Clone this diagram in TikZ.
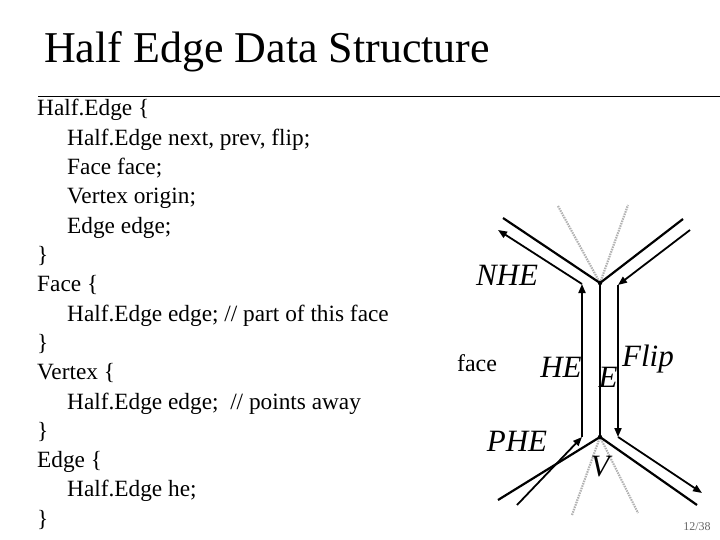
\documentclass[tikz,border=0pt]{standalone}
\usepackage{fontspec}
\setmainfont{Liberation Serif}
\usetikzlibrary{arrows.meta}
\begin{document}
\begin{tikzpicture}[x=1pt,y=-1pt,
  code/.style={anchor=base west,font=\fontsize{23.3}{26}\selectfont,inner sep=0pt},
  edgeln/.style={line width=2.2pt},
  heln/.style={line width=1.8pt,-{Triangle[length=9pt,width=7pt]}},
  dots/.style={gray!60,line width=2.2pt,dash pattern=on 1.5pt off 1pt},
  lab/.style={font=\fontsize{31}{34}\selectfont\itshape,inner sep=0pt}]
\useasboundingbox (0,0) rectangle (720,540);
\node[anchor=west,font=\fontsize{44}{50}\selectfont,inner sep=0pt] (title) at (44,52) {Half Edge Data Structure};
\draw[line width=0.8pt] (38,96) coordinate (r1) -- (720,96) coordinate (r2);
\foreach \t/\x [count=\i from 0] in {{Half.Edge \{}/37,{Half.Edge next, prev, flip;}/67,{Face face;}/67,{Vertex origin;}/67,{Edge edge;}/67,{\}}/37,{Face \{}/37,{Half.Edge edge; // part of this face}/67,{\}}/37,{Vertex \{}/37,{Half.Edge edge;~ // points away}/67,{\}}/37,{Edge \{}/37,{Half.Edge he;}/67,{\}}/37}
  \node[code] (c\i) at (\x,{116+29.3*\i}) {\t};
% vertices
\coordinate (vt) at (600,283);
\coordinate (vb) at (600,437);
\coordinate (tl) at (503,218);
\coordinate (tr) at (683,219);
\coordinate (bl) at (498,500);
\coordinate (br) at (697,505);
\coordinate (gtl) at (558,206);
\coordinate (gtr) at (628,205);
\coordinate (gbl) at (572,515);
\coordinate (gbr) at (638,513);
\draw[dots] (gtl) -- (vt) -- (gtr);
\draw[dots] (gbl) -- (vb) -- (gbr);
\draw[edgeln] (tl) -- (vt) -- (tr);
\draw[edgeln] (bl) -- (vb) -- (br);
\draw[edgeln] (vt) -- (vb);
\fill (vt) circle (2.2pt) (vb) circle (2.2pt);
% half edges
\coordinate (p0) at (517,505);
\coordinate (p1) at (582,437);
\coordinate (p2) at (582,284);
\coordinate (n1) at (498,230);
\coordinate (f0) at (690,230);
\coordinate (f1) at (618,285);
\coordinate (f2) at (618,437);
\coordinate (f3) at (702,493);
\draw[heln] (p0) -- (p1);
\draw[heln] (p1) -- (p2);
\draw[heln] (p2) -- (n1);
\draw[heln] (f0) -- (f1);
\draw[heln] (f1) -- (f2);
\draw[heln] (f2) -- (f3);
% labels
\node[lab] (nhe) at (507,275) {NHE};
\node[font=\fontsize{24}{28}\selectfont,inner sep=0pt] (face) at (477,363) {face};
\node[lab] (he) at (561,367) {HE};
\node[lab] (e) at (608,377) {E};
\node[lab] (flip) at (648,359) {Flip};
\node[lab] (phe) at (517,441) {PHE};
\node[lab] (v) at (600,467) {V};
\node[font=\fontsize{12}{14}\selectfont,text=gray!80!black,inner sep=0pt] (pg) at (697,527) {12/38};
\end{tikzpicture}
\end{document}
